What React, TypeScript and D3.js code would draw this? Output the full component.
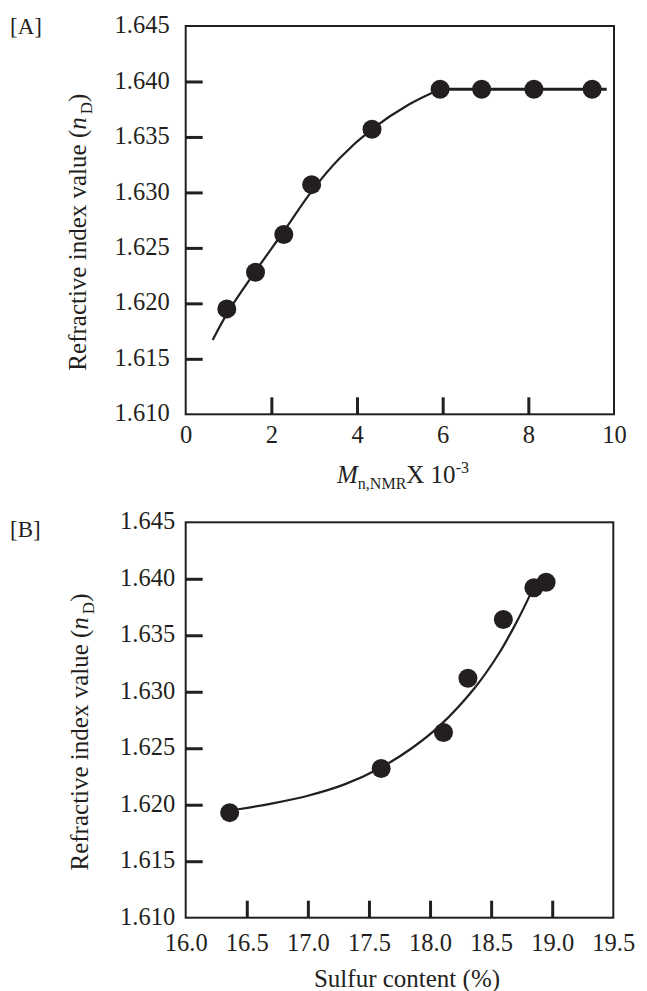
import { useEffect, useRef } from "react";
import * as d3 from "d3";

// panel A: refractive index vs Mn (NMR) x 10^-3
const mnValues = [0.96, 1.63, 2.29, 2.94, 4.35, 5.94, 6.91, 8.13, 9.49];
const riA = [1.6195, 1.6228, 1.6262, 1.6307, 1.6357, 1.6393, 1.6393, 1.6393, 1.6393];
const fitAx = [0.63, 1.0, 1.63, 2.29, 2.94, 3.6, 4.35, 5.2, 5.94];
const fitAy = [1.6167, 1.6193, 1.6229, 1.6265, 1.6301, 1.6331, 1.6357, 1.6379, 1.6393];
const plateauX = [5.94, 9.83];
const plateauY = [1.6393, 1.6393];
const xTicksA = [0, 2, 4, 6, 8, 10];

// panel B: refractive index vs sulfur content
const sulfurValues = [16.36, 17.6, 18.11, 18.31, 18.6, 18.85, 18.95];
const riB = [1.6193, 1.6232, 1.6264, 1.6312, 1.6364, 1.6392, 1.6397];
const fitBx = [16.43, 16.7, 17.0, 17.3, 17.6, 17.85, 18.08, 18.37, 18.57, 18.71, 18.82];
const fitBy = [1.6196, 1.6201, 1.6208, 1.6218, 1.6233, 1.625, 1.627, 1.6304, 1.6335, 1.6362, 1.6386];
const xTicksB = [16.0, 16.5, 17.0, 17.5, 18.0, 18.5, 19.0, 19.5];

const yTicks = [1.61, 1.615, 1.62, 1.625, 1.63, 1.635, 1.64, 1.645];

const ink = "#231f20";
const font = "'Liberation Serif', 'Times New Roman', serif";

export default function App() {
  const svgRef = useRef(null);

  useEffect(() => {
    document.body.style.margin = "0";
    const svg = d3.select(svgRef.current);
    svg.selectAll("*").remove();

    function panel(cfg) {
      const g = svg.append("g");
      const x = d3.scaleLinear().domain(cfg.xDomain).range([cfg.left, cfg.right]);
      const y = d3.scaleLinear().domain([1.61, 1.645]).range([cfg.bottom, cfg.top]);

      const yAxis = d3
        .axisLeft(y)
        .tickValues(yTicks)
        .tickFormat(d3.format(".3f"))
        .tickSizeInner(-17)
        .tickSizeOuter(0)
        .tickPadding(cfg.yPad);
      const ya = g.append("g").attr("transform", `translate(${cfg.left},0)`).call(yAxis);

      const xAxis = d3
        .axisBottom(x)
        .tickValues(cfg.xTicks)
        .tickFormat(cfg.xFormat)
        .tickSizeInner(-17)
        .tickSizeOuter(0)
        .tickPadding(cfg.xPad);
      const xa = g.append("g").attr("transform", `translate(0,${cfg.bottom})`).call(xAxis);

      [ya, xa].forEach((a, i) => {
        a.select(".domain").remove();
        a.selectAll(".tick line").attr("stroke", ink).attr("stroke-width", 3);
        // no tick marks at the frame corners
        a.selectAll(".tick")
          .filter((d, j, nodes) => j === 0 || j === nodes.length - 1)
          .select("line")
          .remove();
        a.selectAll("text")
          .attr("fill", ink)
          .style("font-family", font)
          .style("font-size", "24.5px");
        if (i === 0) a.selectAll("text").attr("dy", "0.27em");
      });

      g.append("rect")
        .attr("x", cfg.left)
        .attr("y", cfg.top)
        .attr("width", cfg.right - cfg.left)
        .attr("height", cfg.bottom - cfg.top)
        .attr("fill", "none")
        .attr("stroke", ink)
        .attr("stroke-width", 2);

      const line = d3
        .line()
        .x((d) => x(d[0]))
        .y((d) => y(d[1]))
        .curve(d3.curveCatmullRom.alpha(0.5));

      cfg.lines.forEach((l) => {
        g.append("path")
          .datum(d3.zip(l[0], l[1]))
          .attr("d", line)
          .attr("fill", "none")
          .attr("stroke", ink)
          .attr("stroke-width", l[2]);
      });

      g.append("g")
        .selectAll("circle")
        .data(d3.zip(cfg.xs, cfg.ys))
        .join("circle")
        .attr("cx", (d) => x(d[0]))
        .attr("cy", (d) => y(d[1]))
        .attr("r", 9.5)
        .attr("fill", ink);

      g.append("text")
        .attr("x", 10)
        .attr("y", cfg.tagY)
        .attr("fill", ink)
        .style("font-family", font)
        .style("font-size", "23px")
        .text(cfg.tag);

      const yl = g
        .append("text")
        .attr("transform", `translate(${cfg.yLabelX},${(cfg.top + cfg.bottom) / 2 + 12}) rotate(-90)`)
        .attr("text-anchor", "middle")
        .attr("fill", ink)
        .style("font-family", font)
        .style("font-size", "25px");
      yl.append("tspan").text("Refractive index value (");
      yl.append("tspan").attr("font-style", "italic").text("n");
      yl.append("tspan").attr("font-size", "17px").attr("dx", 3).attr("dy", 6).text("D");
      yl.append("tspan").attr("dy", -6).text(")");

      return g;
    }

    const gA = panel({
      xDomain: [0, 10],
      left: 185.7,
      right: 614,
      top: 26,
      bottom: 414.3,
      xTicks: xTicksA,
      xFormat: d3.format("d"),
      xPad: 11,
      yPad: 16,
      xs: mnValues,
      ys: riA,
      lines: [
        [fitAx, fitAy, 2.2],
        [plateauX, plateauY, 3],
      ],
      tag: "[A]",
      tagY: 34,
      yLabelX: 86,
    });

    const xtA = gA
      .append("text")
      .attr("x", 403)
      .attr("y", 483)
      .attr("text-anchor", "middle")
      .attr("fill", ink)
      .style("font-family", font)
      .style("font-size", "25px");
    xtA.append("tspan").attr("font-style", "italic").text("M");
    xtA.append("tspan").attr("font-size", "16px").attr("dy", 6).text("n,NMR");
    xtA.append("tspan").attr("dy", -6).text("X 10");
    xtA.append("tspan").attr("font-size", "16px").attr("dy", -10).text("-3");

    const gB = panel({
      xDomain: [16, 19.5],
      left: 185.7,
      right: 613.3,
      top: 522.3,
      bottom: 917.7,
      xTicks: xTicksB,
      xFormat: d3.format(".1f"),
      xPad: 16,
      yPad: 10.5,
      xs: sulfurValues,
      ys: riB,
      lines: [[fitBx, fitBy, 2.2]],
      tag: "[B]",
      tagY: 537,
      yLabelX: 88,
    });

    gB.append("text")
      .attr("x", 407)
      .attr("y", 987)
      .attr("text-anchor", "middle")
      .attr("fill", ink)
      .style("font-family", font)
      .style("font-size", "25px")
      .text("Sulfur content (%)");
  }, []);

  return <svg ref={svgRef} width={647} height={991} style={{ display: "block" }}></svg>;
}
